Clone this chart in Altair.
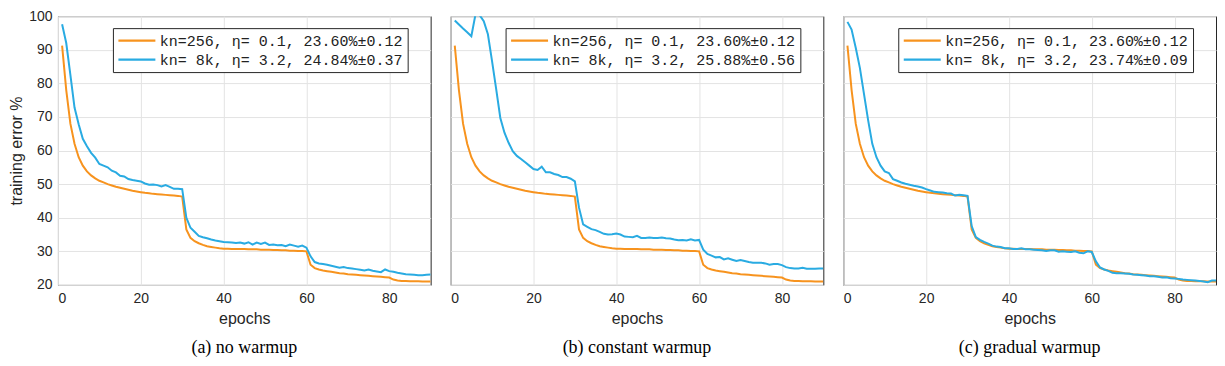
import altair as alt
import pandas as pd

epochs = list(range(1, 91))

base_err = [91.2, 78.0, 68.0, 62.0, 58.0, 55.5, 53.8, 52.6, 51.7, 51.0,
            50.5, 50.0, 49.6, 49.2, 48.9, 48.6, 48.3, 48.0, 47.8, 47.6,
            47.4, 47.3, 47.1, 47.0, 46.9, 46.8, 46.7, 46.6, 46.5, 46.3,
            36.5, 34.0, 33.0, 32.4, 31.9, 31.5, 31.3, 31.1, 30.9, 30.8,
            30.8, 30.7, 30.7, 30.7, 30.7, 30.6, 30.6, 30.6, 30.5, 30.5,
            30.5, 30.4, 30.4, 30.3, 30.3, 30.2, 30.2, 30.1, 30.1, 30.0,
            26.0, 25.0, 24.6, 24.3, 24.1, 23.9, 23.7, 23.5, 23.4, 23.2,
            23.1, 23.0, 22.9, 22.8, 22.7, 22.6, 22.5, 22.4, 22.3, 22.2,
            21.6, 21.3, 21.2, 21.2, 21.1, 21.1, 21.1, 21.0, 21.0, 21.0]

no_warmup = [97.6, 92.0, 82.5, 72.8, 67.8, 63.5, 61.3, 59.3, 57.9, 56.0,
             55.5, 55.0, 54.0, 53.5, 52.5, 52.3, 51.5, 51.2, 51.0, 50.8,
             50.2, 49.8, 49.9, 49.7, 49.3, 49.7, 49.2, 48.6, 48.6, 48.5,
             40.0, 37.0, 35.8, 34.6, 34.2, 33.9, 33.5, 33.2, 33.0, 32.8,
             32.7, 32.6, 32.5, 32.6, 32.3, 32.7, 32.0, 32.6, 32.2, 32.6,
             31.9, 32.0, 31.8, 31.9, 31.5, 32.0, 31.7, 31.4, 31.7, 31.1,
             28.5, 26.8, 26.4, 26.2, 26.0, 25.7, 25.4, 25.1, 25.3, 25.0,
             24.9, 24.7, 24.5, 24.3, 24.6, 24.2, 24.0, 23.8, 24.6, 24.1,
             23.9, 23.6, 23.4, 23.2, 23.1, 23.0, 22.9, 22.9, 23.0, 23.1]

constant_warmup = [98.7, 97.5, 96.3, 95.2, 94.0, 100.5, 100.3, 98.5, 94.6, 86.6,
                   78.3, 69.7, 65.3, 62.3, 59.8, 58.4, 57.5, 56.5, 55.5, 54.5,
                   54.2, 55.2, 53.5, 53.5, 53.0, 52.7, 52.1, 52.1, 51.6, 50.8,
                   43.0, 38.0, 37.3, 36.6, 36.3, 35.8, 35.2, 35.0, 35.1, 35.3,
                   35.0, 34.4, 34.3, 34.2, 34.6, 34.0, 34.0, 34.1, 34.0, 34.0,
                   34.1, 33.9, 33.8, 33.5, 33.3, 33.4, 33.2, 33.6, 33.2, 33.4,
                   30.5, 29.2, 28.7, 28.2, 28.3, 27.6, 27.9, 27.5, 27.1, 27.4,
                   27.1, 26.8, 26.6, 26.6, 26.6, 26.4, 26.0, 26.2, 26.2, 25.9,
                   25.3, 25.0, 24.9, 24.9, 25.1, 24.8, 24.8, 24.8, 24.9, 24.9]

gradual_warmup = [98.3, 96.0, 90.6, 84.6, 76.8, 69.0, 62.0, 58.0, 55.5, 53.8,
                  53.3, 51.5, 51.0, 50.5, 50.1, 49.8, 49.5, 49.3, 49.0, 48.5,
                  48.1, 47.7, 47.6, 47.5, 47.3, 47.2, 46.6, 46.8, 46.7, 46.5,
                  37.5, 34.2, 33.4, 32.8, 32.3, 31.7, 31.4, 31.3, 30.9, 30.9,
                  30.7, 30.7, 30.9, 30.6, 30.6, 30.5, 30.4, 30.3, 30.1, 30.3,
                  30.3, 29.9, 30.0, 29.9, 29.8, 30.0, 29.6, 29.4, 30.0, 29.8,
                  27.0, 25.2, 24.6, 24.2, 23.6, 23.5, 23.5, 23.4, 23.3, 23.1,
                  23.0, 22.9, 22.8, 22.6, 22.6, 22.4, 22.2, 22.3, 22.0, 21.9,
                  21.8, 21.6, 21.5, 21.4, 21.3, 21.2, 21.0, 20.8, 21.3, 21.3]

base_label = "kn=256, η= 0.1, 23.60%±0.12"
large_labels = ["kn= 8k, η= 3.2, 24.84%±0.37",
                "kn= 8k, η= 3.2, 25.88%±0.56",
                "kn= 8k, η= 3.2, 23.74%±0.09"]
captions = ["(a) no warmup", "(b) constant warmup", "(c) gradual warmup"]
large_series = [no_warmup, constant_warmup, gradual_warmup]

ORANGE = "#F7931E"
BLUE = "#29ABE2"
AXIS_FONT = "Liberation Sans"


def panel(i):
    lab_big = large_labels[i]
    df_base = pd.DataFrame({"epoch": epochs, "err": base_err, "series": base_label})
    df_big = pd.DataFrame({"epoch": epochs, "err": large_series[i], "series": lab_big})
    if i == 0:
        yaxis = alt.Axis(values=list(range(20, 101, 10)), title="training error %",
                         tickSize=0, domain=False, labelPadding=6, titlePadding=4)
    else:
        yaxis = alt.Axis(values=list(range(20, 101, 10)), title=None, labels=False,
                         ticks=False, domain=False)
    color = alt.Color("series:N",
                      scale=alt.Scale(domain=[base_label, lab_big], range=[ORANGE, BLUE]),
                      legend=alt.Legend(title=None, orient="none", legendX=55, legendY=12,
                                        symbolType="stroke", symbolSize=1369,
                                        clipHeight=17,
                                        symbolStrokeWidth=2.2, labelFont="Liberation Mono",
                                        labelFontSize=15, labelColor="#222222",
                                        strokeColor="#262626", fillColor="white",
                                        padding=4, rowPadding=2, labelOffset=3,
                                        labelLimit=400))
    x = alt.X("epoch:Q", scale=alt.Scale(domain=[0, 90], nice=False),
              axis=alt.Axis(values=[0, 20, 40, 60, 80], title="epochs", tickSize=0,
                            domain=False, labelPadding=7, titlePadding=5))
    y = alt.Y("err:Q", scale=alt.Scale(domain=[20, 100], nice=False), axis=yaxis)
    l1 = alt.Chart(df_base).mark_line(strokeWidth=2, clip=True).encode(x=x, y=y, color=color)
    l2 = alt.Chart(df_big).mark_line(strokeWidth=2, clip=True).encode(x=x, y=y, color=color)
    return alt.layer(l1, l2).properties(
        width=373, height=269,
        title=alt.TitleParams(text=captions[i], orient="bottom", font="Liberation Serif",
                              fontSize=18, fontWeight="normal", color="black",
                              offset=12, anchor="middle"))


chart = alt.hconcat(panel(0), panel(1), panel(2), spacing=18).resolve_scale(
    color="independent").resolve_legend(color="independent").properties(
    padding={"left": 0, "top": 0, "right": 0, "bottom": 0}
).configure_view(stroke="#262626", strokeWidth=1).configure_axis(
    gridColor="#e3e3e3", gridWidth=1, labelFont=AXIS_FONT, labelFontSize=14,
    labelColor="#262626", titleFont=AXIS_FONT, titleFontSize=16,
    titleFontWeight="normal", titleColor="#262626")

chart.save("out.html", embed_options={"renderer": "svg", "actions": False})
